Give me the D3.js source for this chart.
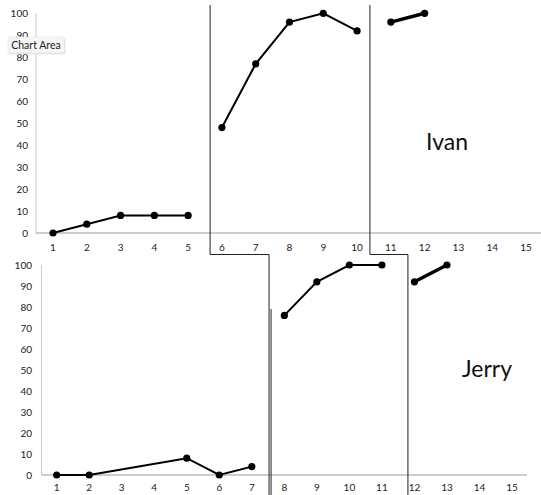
<!DOCTYPE html>
<meta charset="utf-8">
<title>Ivan and Jerry</title>
<style>
  body { margin: 0; background: #fff; }
  svg { display: block; font-family: Lato, "Open Sans", sans-serif; }
  .tick-label { font-size: 10px; fill: #222; }
  .axis-line { stroke: #999; stroke-width: 1px; }
  .y-line { stroke: #ccc; stroke-width: 1px; }
  .phase { fill: none; stroke: #222; stroke-width: 1px; }
  .series { fill: none; stroke: #000; stroke-width: 2px; }
  .series.thick { stroke-width: 3.5px; }
  .dot { fill: #000; }
  .name { font-size: 23px; fill: #111; }
</style>
<svg width="541" height="495"></svg>
<script src="https://cdn.jsdelivr.net/npm/d3@7"></script>
<script>
  var xTicks = [1, 2, 3, 4, 5, 6, 7, 8, 9, 10, 11, 12, 13, 14, 15];
  var yTicks = [0, 10, 20, 30, 40, 50, 60, 70, 80, 90, 100];

  // each inner array is one phase
  var ivanX = [[1, 2, 3, 4, 5], [6, 7, 8, 9, 10], [11, 12]];
  var ivanY = [[0, 4, 8, 8, 8], [48, 77, 96, 100, 92], [96, 100]];
  var jerryX = [[1, 2, 5, 6, 7], [8, 9, 10, 11], [12, 13]];
  var jerryY = [[0, 0, 8, 0, 4], [76, 92, 100, 100], [92, 100]];

  // phase change lines sit between sessions
  var ivanBreaks = [5.65, 10.38];
  var jerryBreaks = [7.53, 11.8];

  var svg = d3.select("svg");

  var panels = [
    { name: "Ivan", xs: ivanX, ys: ivanY,
      x: d3.scaleLinear().domain([1, 15]).range([53, 526]),
      y: d3.scaleLinear().domain([0, 100]).range([233, 13.3]),
      yAxisX: 36, axisEnd: 541, labelRight: 28, tickY: 251, nameAt: [447, 150] },
    { name: "Jerry", xs: jerryX, ys: jerryY,
      x: d3.scaleLinear().domain([1, 15]).range([56.7, 512]),
      y: d3.scaleLinear().domain([0, 100]).range([475, 265]),
      yAxisX: 41.5, axisEnd: 527, labelRight: 32, tickY: 491, nameAt: [487, 377] }
  ];

  panels.forEach(function (p) {
    var g = svg.append("g");

    g.append("line").attr("class", "y-line")
      .attr("x1", p.yAxisX).attr("x2", p.yAxisX)
      .attr("y1", p.y(100)).attr("y2", p.y(0));

    g.append("line").attr("class", "axis-line")
      .attr("x1", p.yAxisX).attr("x2", p.axisEnd)
      .attr("y1", p.y(0)).attr("y2", p.y(0));

    g.selectAll(".ylab").data(yTicks).enter().append("text")
      .attr("class", "tick-label ylab")
      .attr("x", p.labelRight)
      .attr("y", d => p.y(d))
      .attr("dy", "0.35em")
      .attr("text-anchor", "end")
      .text(d => d);

    g.selectAll(".xlab").data(xTicks).enter().append("text")
      .attr("class", "tick-label xlab")
      .attr("x", d => p.x(d))
      .attr("y", p.tickY)
      .attr("text-anchor", "middle")
      .text(d => d);

    var line = d3.line().x(d => p.x(d[0])).y(d => p.y(d[1]));

    p.xs.forEach(function (xs, i) {
      var pts = xs.map((v, j) => [v, p.ys[i][j]]);
      g.append("path")
        .attr("class", i === 2 ? "series thick" : "series")
        .attr("d", line(pts));
      g.selectAll(null).data(pts).enter().append("circle")
        .attr("class", "dot")
        .attr("cx", d => p.x(d[0]))
        .attr("cy", d => p.y(d[1]))
        .attr("r", 3.6);
    });

    g.append("text").attr("class", "name")
      .attr("x", p.nameAt[0]).attr("y", p.nameAt[1])
      .attr("text-anchor", "middle")
      .text(p.name);
  });

  // stepped phase-change lines running through both panels
  var upper = panels[0], lower = panels[1];
  var stepY = 254.5;
  ivanBreaks.forEach(function (b, i) {
    var x1 = upper.x(b), x2 = lower.x(jerryBreaks[i]);
    svg.append("path").attr("class", "phase")
      .attr("d", "M" + x1 + ",5V" + stepY + "H" + x2 + "V495");
  });
  // the redrawn stroke beside the first Jerry break
  svg.append("line").attr("class", "phase")
    .attr("stroke", "#333").attr("stroke-width", 1.2)
    .attr("x1", lower.x(jerryBreaks[0]) + 2).attr("x2", lower.x(jerryBreaks[0]) + 2)
    .attr("y1", lower.y(79)).attr("y2", 495);

  // "Chart Area" hover tip
  var tip = svg.append("g").attr("transform", "translate(8,37)");
  tip.append("rect").attr("x", 1.5).attr("y", 1.5).attr("width", 56).attr("height", 16)
    .attr("fill", "#ddd").attr("opacity", 0.7);
  tip.append("rect").attr("width", 56).attr("height", 16)
    .attr("fill", "#f6f6f6").attr("stroke", "#ddd").attr("stroke-width", 0.5);
  tip.append("text").attr("x", 28).attr("y", 11.5)
    .attr("text-anchor", "middle")
    .style("font-size", "10.5px").style("fill", "#222")
    .text("Chart Area");
</script>
